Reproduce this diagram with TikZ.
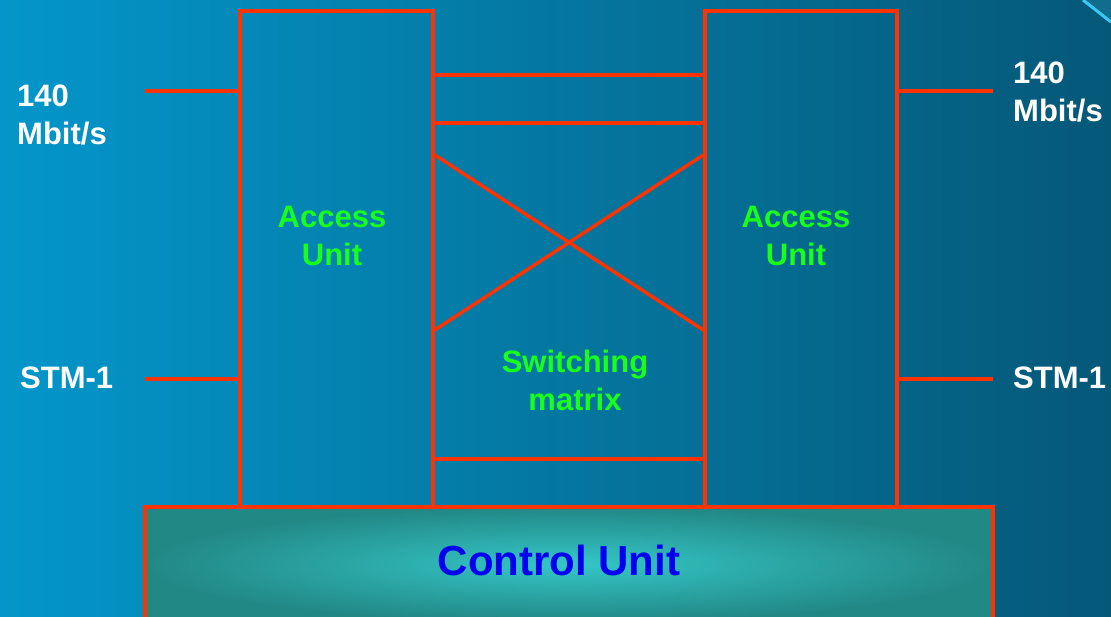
\documentclass[tikz,border=0pt]{standalone}
\usepackage{fontspec}
\setmainfont{Liberation Sans}
\definecolor{wire}{RGB}{255,51,0}
\definecolor{aulabel}{RGB}{25,255,25}
\definecolor{culabel}{RGB}{0,0,240}
\definecolor{bgleft}{RGB}{4,150,202}
\definecolor{bgright}{RGB}{5,88,120}
\definecolor{cuin}{RGB}{52,198,198}
\definecolor{cuout}{RGB}{34,136,134}
\definecolor{cornerline}{RGB}{60,200,245}
\definecolor{cornerfill}{RGB}{18,108,140}
\tikzstyle{wr}=[draw=wire, line width=3.5pt]
\tikzstyle{unit}=[wr, rectangle, inner sep=0pt]
\tikzstyle{port}=[text=white, inner sep=0pt, align=left, font=\bfseries\fontsize{31}{38}\selectfont]
\tikzstyle{aulbl}=[text=aulabel, inner sep=0pt, align=center, font=\bfseries\fontsize{31}{38}\selectfont]
\tikzstyle{culbl}=[text=culabel, inner sep=0pt, font=\bfseries\fontsize{42}{48}\selectfont]

\begin{document}
\begin{tikzpicture} [x=1pt, y=-1pt]
%%frame
\clip (0,0) rectangle (1111,617);
\shade[left color=bgleft, right color=bgright] (0,0) rectangle (1111,617);
%%corner
\fill[cornerfill] (1083,0) -- (1111,22) -- (1111,0) -- cycle;
\draw[cornerline, line width=3pt] (1083,0) -- (1111,22);
%%access units
\node[unit, minimum width=193pt, minimum height=496pt] (aul) at (336.5,259) {};
\node[unit, minimum width=192pt, minimum height=496pt] (aur) at (801,259) {};
\node[aulbl] (aultext) at (332,236) {Access\\Unit};
\node[aulbl] (aurtext) at (796,236) {Access\\Unit};
%%switching matrix
\draw[wr] (aul.east |- 0,75) -- (aur.west |- 0,75);
\draw[wr] (aul.east |- 0,123) -- (aur.west |- 0,123);
\draw[wr] (aul.east |- 0,459) -- (aur.west |- 0,459);
\draw[wr] (aul.east |- 0,155) -- (aur.west |- 0,330);
\draw[wr] (aul.east |- 0,330) -- (aur.west |- 0,155);
\node[aulbl] (smtext) at (575,380) {Switching\\matrix};
%%control unit
\node[unit, shade, inner color=cuin, outer color=cuout, minimum width=848pt, minimum height=115pt] (cu) at (569,564.5) {};
\node[culbl] (cutext) at (559,560) {Control Unit};
%%ports
\coordinate (inA) at (145,91);
\coordinate (inB) at (145,379);
\coordinate (outA) at (993,91);
\coordinate (outB) at (993,379);
\draw[wr] (inA) -- (inA -| aul.west);
\draw[wr] (inB) -- (inB -| aul.west);
\draw[wr] (outA -| aur.east) -- (outA);
\draw[wr] (outB -| aur.east) -- (outB);
%%names
\node[port, anchor=west] (inAtext) at (17,115) {140\\Mbit/s};
\node[port, anchor=west] (inBtext) at (20,378) {STM-1};
\node[port, anchor=west] (outAtext) at (1013,92) {140\\Mbit/s};
\node[port, anchor=west] (outBtext) at (1013,378) {STM-1};
\end{tikzpicture}
\end{document}
